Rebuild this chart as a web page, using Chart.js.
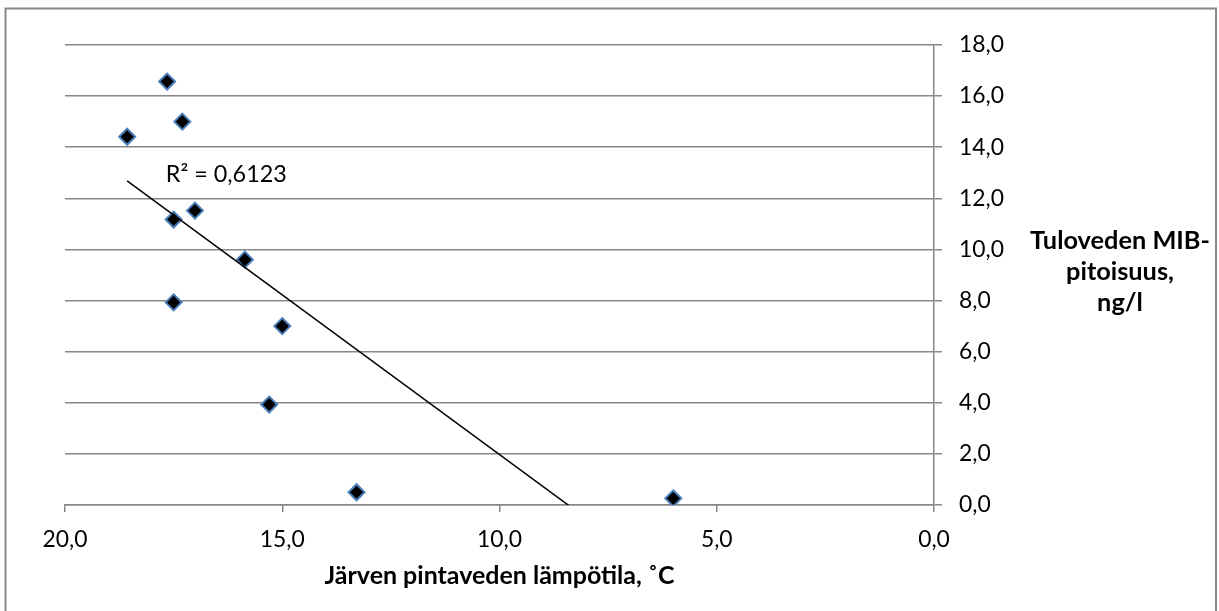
<!DOCTYPE html>
<html><head><meta charset="utf-8">
<script src="https://cdn.jsdelivr.net/npm/chart.js@4"></script>
<style>html,body{margin:0;padding:0;background:#fff;} canvas{display:block;}</style>
</head><body>
<canvas id="c" width="1219" height="611"></canvas>
<script>
// ---- data ----
const temperatures = [17.65, 17.30, 18.57, 17.01, 17.50, 15.86, 17.50, 15.00, 15.30, 13.29, 6.00];
const mibValues   = [16.57, 15.00, 14.41, 11.52, 11.17, 9.60, 7.93, 7.00, 3.93, 0.50, 0.26];
const xTickValues = [20, 15, 10, 5, 0];
const yTickValues = [0, 2, 4, 6, 8, 10, 12, 14, 16, 18];
const xTitle = 'Järven pintaveden lämpötila, ˚C';
const yTitleLines = ['Tuloveden MIB-', 'pitoisuus,', 'ng/l'];
const r2Text = 'R² = 0,6123';
const r2Anchor = {x: 17.68, y: 12.64};

// ---- styling ----
const FAMILY = 'Lato, "Open Sans", sans-serif';
const GRID = '#878787';
const mctx = document.createElement('canvas').getContext('2d');
function fit(text, weight, target) {
  mctx.font = weight + ' 100px ' + FAMILY;
  return 100 * target / mctx.measureText(text).width;
}
const fmt = v => Number(v).toFixed(1).replace('.', ',');

// linear regression trendline from the data
function regression(xs, ys) {
  const n = xs.length;
  const mx = xs.reduce((a, b) => a + b, 0) / n;
  const my = ys.reduce((a, b) => a + b, 0) / n;
  let sxy = 0, sxx = 0;
  for (let i = 0; i < n; i++) { sxy += (xs[i] - mx) * (ys[i] - my); sxx += (xs[i] - mx) ** 2; }
  const slope = sxy / sxx;
  return {slope, intercept: my - slope * mx};
}

function build() {
  const tickSize = fit('20,0', 'normal', 45);
  const r2Size = fit(r2Text, 'normal', 121);
  const xTitleSize = fit(xTitle, 'bold', 350);
  const yTitleSize = fit(yTitleLines[0], 'bold', 180);

  const reg = regression(temperatures, mibValues);
  const xMin = Math.min(...temperatures), xMax = Math.max(...temperatures);
  const trend = [xMax, xMin].map(x => ({x, y: reg.slope * x + reg.intercept}));
  const points = temperatures.map((t, i) => ({x: t, y: mibValues[i]}));

  const decor = {
    id: 'decor',
    beforeDraw(chart) {
      const ctx = chart.ctx;
      ctx.save();
      ctx.fillStyle = '#fff';
      ctx.fillRect(0, 0, chart.width, chart.height);
      ctx.strokeStyle = '#898989';
      ctx.lineWidth = 2;
      ctx.strokeRect(5.5, 8.5, 1210.5, 640);
      ctx.restore();
    },
    afterDraw(chart) {
      const ctx = chart.ctx;
      const xs = chart.scales.x, ys = chart.scales.y;
      ctx.save();
      ctx.fillStyle = '#000';
      ctx.font = r2Size.toFixed(2) + 'px ' + FAMILY;
      ctx.textAlign = 'left';
      ctx.textBaseline = 'alphabetic';
      ctx.fillText(r2Text, xs.getPixelForValue(r2Anchor.x), ys.getPixelForValue(r2Anchor.y));
      ctx.font = 'bold ' + yTitleSize.toFixed(2) + 'px ' + FAMILY;
      ctx.textAlign = 'center';
      const cx = ys.left + 186;
      const mid = (chart.chartArea.top + chart.chartArea.bottom) / 2;
      yTitleLines.forEach((line, i) => ctx.fillText(line, cx, mid - 26 + i * 31));
      ctx.restore();
    }
  };

  new Chart(document.getElementById('c'), {
    type: 'scatter',
    data: {
      datasets: [
        {
          type: 'line', data: trend, borderColor: '#000', borderWidth: 1.5,
          pointRadius: 0, fill: false, tension: 0
        },
        {
          data: points, pointStyle: 'rectRot', pointRadius: 8, pointHoverRadius: 8,
          backgroundColor: '#000', borderColor: '#4a7ebb', borderWidth: 2
        }
      ]
    },
    options: {
      responsive: false, animation: false, devicePixelRatio: 1,
      layout: {padding: {left: 65, top: 45, right: 0, bottom: 0}},
      plugins: {legend: {display: false}, tooltip: {enabled: false}},
      events: [],
      scales: {
        x: {
          type: 'linear', position: 'bottom', min: 0, max: 20, reverse: true,
          afterBuildTicks: s => { s.ticks = xTickValues.map(v => ({value: v})); },
          afterFit: s => { s.height = 106; },
          grid: {drawOnChartArea: false, drawTicks: true, tickLength: 7, color: GRID, lineWidth: 1.5},
          border: {display: true, color: GRID, width: 1.5},
          ticks: {callback: v => fmt(v), color: '#000', padding: 14, maxRotation: 0,
                  font: {family: FAMILY, size: tickSize}},
          title: {display: true, text: xTitle, color: '#000', padding: {top: 0, bottom: 20},
                  font: {family: FAMILY, size: xTitleSize, weight: 'bold'}}
        },
        y: {
          type: 'linear', position: 'right', min: 0, max: 18,
          afterBuildTicks: s => { s.ticks = yTickValues.map(v => ({value: v})); },
          afterFit: s => { s.width = 285; },
          grid: {drawOnChartArea: true, drawTicks: true, tickLength: 8, color: GRID, lineWidth: 1.5},
          border: {display: true, color: GRID, width: 1.5},
          ticks: {callback: v => fmt(v), color: '#000', padding: 17,
                  font: {family: FAMILY, size: tickSize}}
        }
      }
    },
    plugins: [decor]
  });
}

if (document.fonts && document.fonts.load) {
  Promise.all([document.fonts.load('16px Lato'), document.fonts.load('bold 16px Lato')])
    .then(build, build);
} else { build(); }
</script>
</body></html>
